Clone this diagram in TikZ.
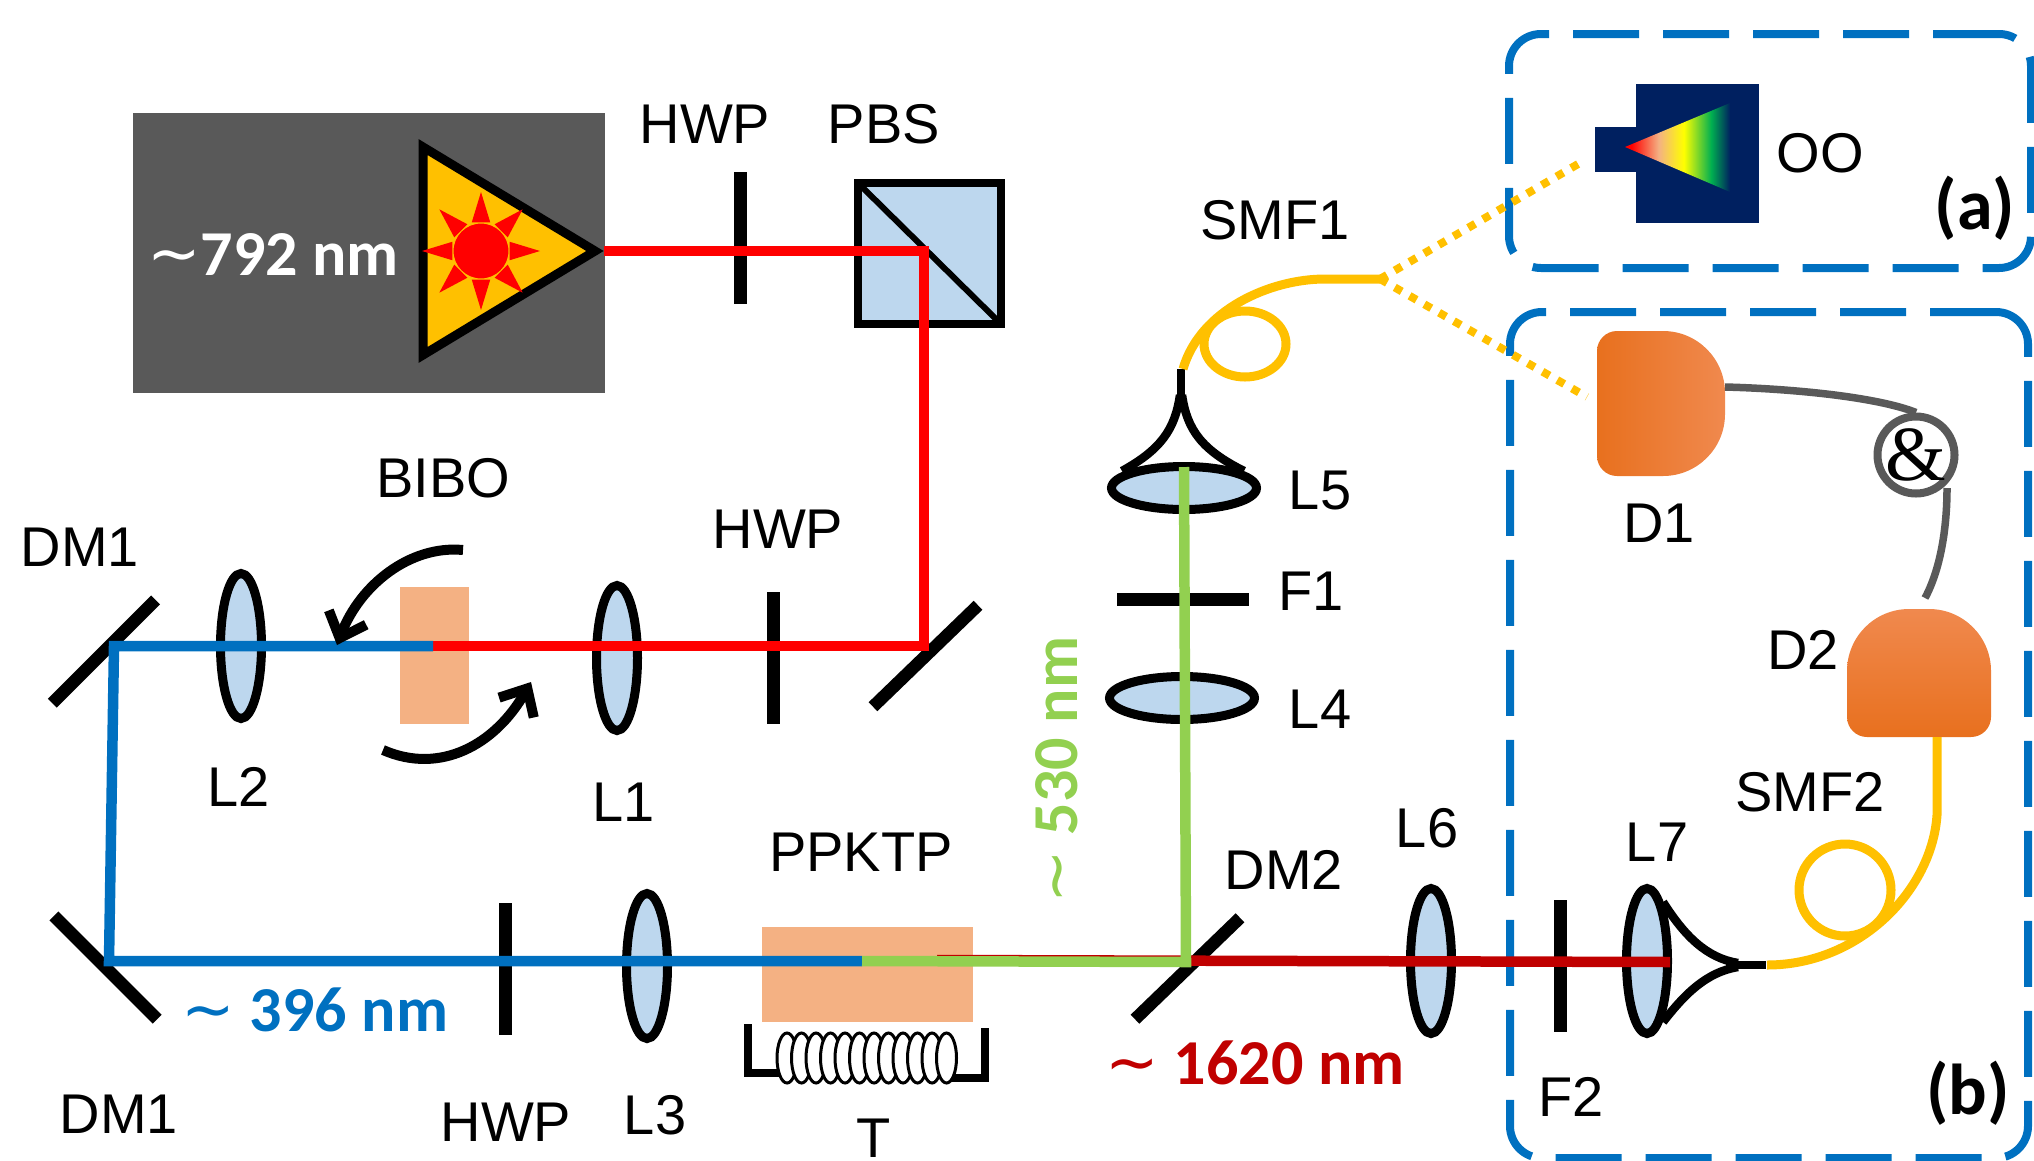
\documentclass[tikz,border=0pt]{standalone}
\usepackage{fontspec}
\setmainfont{Liberation Sans}
\newfontfamily\calfont{Carlito}
\newfontfamily\ampfont{Liberation Serif}
\newfontfamily\tildefont{DejaVu Sans}
\usetikzlibrary{arrows.meta,shapes.geometric}
\definecolor{pumpred}{HTML}{FF0000}
\definecolor{uvblue}{HTML}{0070C0}
\definecolor{signalgreen}{HTML}{92D050}
\definecolor{irred}{HTML}{C00000}
\definecolor{amber}{HTML}{FFC000}
\definecolor{graybox}{HTML}{595959}
\definecolor{lensblue}{HTML}{BDD7EE}
\definecolor{crystal}{HTML}{F4B183}
\definecolor{navy}{HTML}{002060}
\definecolor{peach}{HTML}{F4B183}
\definecolor{specgreen}{HTML}{00B050}
\definecolor{detdark}{HTML}{E8701E}
\definecolor{detmid}{HTML}{F47B2C}
\definecolor{detlight}{HTML}{F0894E}
\newcommand{\tld}{{\tildefont\mdseries ∼}}
\pgfdeclarehorizontalshading{specfan}{100bp}{color(0bp)=(pumpred); color(28bp)=(pumpred); color(41bp)=(peach); color(53bp)=(yellow); color(66bp)=(specgreen); color(75bp)=(navy); color(100bp)=(navy)}
\tikzset{
  lbl/.style={font=\fontsize{56}{60}\selectfont, inner sep=0pt},
  nmlbl/.style={font=\calfont\bfseries\fontsize{64}{70}\selectfont, inner sep=0pt},
  panellbl/.style={font=\calfont\bfseries\fontsize{72}{76}\selectfont, inner sep=0pt},
  lens/.style={draw=black, line width=9pt, fill=lensblue, ellipse, inner sep=0pt, outer sep=0pt, minimum width=41pt, minimum height=145pt},
  hlens/.style={lens, minimum width=145pt, minimum height=43pt},
  plate/.style={fill=black, inner sep=0pt, outer sep=0pt, minimum width=13pt, minimum height=132pt},
  mirror/.style={fill=black, inner sep=0pt, outer sep=0pt, minimum width=146pt, minimum height=12.5pt},
  block/.style={inner sep=0pt, outer sep=0pt},
  beam/.style={line width=10.5pt},
  fiber/.style={draw=amber, line width=9pt},
  dotfiber/.style={draw=amber, line width=8pt, dash pattern=on 8pt off 9pt},
  wire/.style={draw=graybox, line width=7.5pt},
  panel/.style={draw=uvblue, line width=8pt, rounded corners=32pt, dash pattern=on 66pt off 24pt, inner sep=0pt, outer sep=0pt},
  coupler/.style={draw=black, line width=8.5pt},
  turn/.style={draw=black, line width=10pt, -{Straight Barb[length=22pt,width=40pt,line width=10pt]}}
}
\begin{document}
\begin{tikzpicture}[x=1pt, y=-1pt]
  \useasboundingbox (0,0) rectangle (2034,1160);

  \node[panel, minimum width=522pt, minimum height=234pt] (panelA) at (1770,151) {};
  \node[panel, minimum width=518pt, minimum height=846pt] (panelB) at (1769,735) {};

  \node[block, fill=graybox, minimum width=472.5pt, minimum height=280pt] (laserbox) at (368.75,253) {};
  \draw[line width=9pt, fill=amber] (423,147) -- (595,251) -- (423,355) -- cycle;
  \node[circle, fill=pumpred, draw=amber, line width=1pt, inner sep=0pt, minimum size=56pt] (sun) at (481,251) {};
  \foreach \a in {0,45,...,315}
    \fill[pumpred, shift={(sun.center)}] (\a:59) -- (\a+18:30) -- (\a-18:30) -- cycle;
  \node[nmlbl, white] (pumplbl) at (273,255) {\tld 792 nm};
  \coordinate (pumpout) at (604,251);

  \node[plate] (hwpA) at (740,238) {};
  \node[lbl] (hwpAlbl) at (705,124) {HWP};
  \node[block, draw=black, line width=8pt, fill=lensblue, minimum width=143pt, minimum height=141pt] (pbs) at (929,253) {};
  \draw[line width=6pt] (pbs.north west) -- (pbs.south east);
  \node[lbl] (pbslbl) at (884,124) {PBS};

  \node[mirror, rotate=44] (mirrorR) at (925.5,656) {};
  \node[plate] (hwpB) at (773,658) {};
  \node[lbl] (hwpBlbl) at (778,529) {HWP};
  \node[lens] (lensA) at (617,658) {};
  \node[lbl] (lensAlbl) at (624,802) {L1};
  \node[block, fill=crystal, minimum width=69pt, minimum height=137pt] (bibo) at (434.5,655.5) {};
  \node[lbl] (bibolbl) at (443,478) {BIBO};
  \node[lens] (lensB) at (241,646) {};
  \node[lbl] (lensBlbl) at (239,787) {L2};
  \node[mirror, rotate=45] (dmTop) at (104,651.5) {};
  \node[lbl] (dmToplbl) at (80,547) {DM1};
  \node[mirror, rotate=-45] (dmBot) at (105.5,967.5) {};
  \node[lbl] (dmBotlbl) at (119,1114) {DM1};

  \node[plate] (hwpC) at (505,969) {};
  \node[lbl] (hwpClbl) at (506,1122) {HWP};
  \node[lens] (lensC) at (647,966) {};
  \node[lbl] (lensClbl) at (655,1115) {L3};
  \node[block, fill=crystal, minimum width=211pt, minimum height=95pt] (ppktp) at (867.5,974.5) {};
  \node[lbl] (ppktplbl) at (861,852) {PPKTP};
  \node[mirror, rotate=44] (dmTwo) at (1187.5,968.5) {};
  \node[lbl] (dmTwolbl) at (1284,870) {DM2};
  \node[hlens] (lensD) at (1182,698) {};
  \node[lbl] (lensDlbl) at (1320,709) {L4};
  \node[plate, rotate=90] (filterA) at (1183,599) {};
  \node[lbl] (filterAlbl) at (1311,591) {F1};
  \node[hlens] (lensE) at (1184,488) {};
  \node[lbl] (lensElbl) at (1320,490) {L5};
  \node[lens] (lensF) at (1431,961) {};
  \node[lbl] (lensFlbl) at (1427,828) {L6};
  \node[plate] (filterB) at (1560.5,965.5) {};
  \node[lbl] (filterBlbl) at (1571,1097) {F2};
  \node[lens] (lensG) at (1647,961) {};
  \node[lbl] (lensGlbl) at (1657,842) {L7};

  \coordinate (pbsturn) at (924,251);
  \coordinate (mirrorturn) at (924,646);
  \coordinate (bibomid) at (433,646);
  \coordinate (dmTopturn) at (114,646);
  \coordinate (dmBotturn) at (109,961);
  \coordinate (ppktpmid) at (862,961);
  \coordinate (dmTwoturn) at (1186,962);
  \coordinate (lensEtop) at (1184,467);
  \coordinate (lensGend) at (1670,962);

  \draw[beam, irred] (937,960) -- (lensGend);
  \draw[beam, pumpred] (pumpout) -- (pbsturn) -- (mirrorturn) -- (bibomid);
  \draw[beam, uvblue] (bibomid) -- (dmTopturn) -- (dmBotturn) -- (ppktpmid);
  \draw[beam, signalgreen] (ppktpmid) -- (dmTwoturn) -- (lensEtop);

  \node[nmlbl, uvblue] (uvlbl) at (315,1010) {\tld{} 396 nm};
  \node[nmlbl, irred] (irlbl) at (1255,1063) {\tld{} 1620 nm};
  \node[nmlbl, signalgreen, rotate=90] (greenlbl) at (1057,770) {\tld{} 530 nm};

  \draw[turn] (463,550) .. controls (410,545) and (360,585) .. (337,645);
  \draw[turn] (383,750) .. controls (440,775) and (495,745) .. (531,682);

  \draw[line width=8pt] (748,1024) |- (782,1073);
  \draw[line width=8pt] (985,1028) |- (950,1078);
  \foreach \i in {0,...,11}
    \draw[line width=3pt, fill=white] (787+\i*14.5,1058) ellipse [x radius=10, y radius=25];
  \node[lbl, anchor=base] (heaterlbl) at (874,1157) {T};

  \draw[coupler] (1181,369) -- (1181,405);
  \draw[coupler] (1180,395) .. controls (1175,430) and (1160,450) .. (1122,471);
  \draw[coupler] (1182,395) .. controls (1187,430) and (1202,450) .. (1244,471);
  \coordinate (smfAend) at (1380,279);
  \draw[fiber] (1183,369) .. controls (1200,310) and (1270,279) .. (1325,279) -- (smfAend);
  \draw[fiber] (1245,344) ellipse [x radius=41, y radius=33];
  \node[lbl] (smfAlbl) at (1275,220) {SMF1};

  \node[block, fill=navy, minimum width=123pt, minimum height=139pt] (specbody) at (1697.5,153.5) {};
  \node[block, fill=navy, minimum width=41pt, minimum height=45pt] (specport) at (1615.5,149.5) {};
  \shade[shading=specfan] (1625,147) -- (1730,103) -- (1730,192) -- cycle;
  \node[lbl] (speclbl) at (1820,153) {OO};
  \node[panellbl] (panelAlbl) at (1975,208) {(a)};
  \node[panellbl] (panelBlbl) at (1968,1093) {(b)};

  \node[block, minimum width=128pt, minimum height=145pt] (detA) at (1661,403.5) {};
  \shade[left color=detdark, middle color=detmid, right color=detlight]
    (detA.west) [rounded corners=20pt] -- (detA.north west) [rounded corners=62pt] -- (detA.north east) -- (detA.south east) [rounded corners=20pt] -- (detA.south west) -- cycle;
  \node[lbl] (detAlbl) at (1659,523) {D1};
  \node[block, minimum width=144pt, minimum height=128pt] (detB) at (1919,673) {};
  \shade[top color=detlight, middle color=detmid, bottom color=detdark]
    (detB.south) [rounded corners=20pt] -- (detB.south east) [rounded corners=62pt] -- (detB.north east) -- (detB.north west) [rounded corners=20pt] -- (detB.south west) -- cycle;
  \node[lbl] (detBlbl) at (1803,650) {D2};

  \node[circle, draw=graybox, line width=8pt, inner sep=0pt, minimum size=77pt] (gate) at (1916,455) {};
  \node[font=\ampfont\fontsize{78}{78}\selectfont, inner sep=0pt] (gatelbl) at (gate.center) {\&};
  \draw[wire] (1725,387) .. controls (1800,389) and (1880,398) .. (gate.north);
  \draw[wire] (1947,488) .. controls (1947,530) and (1940,570) .. (1925,598);

  \draw[coupler] (1766,965) -- (1726,965);
  \draw[coupler] (1738,963) .. controls (1706,958) and (1684,935) .. (1663,902);
  \draw[coupler] (1738,967) .. controls (1706,972) and (1684,995) .. (1663,1022);
  \coordinate (detBout) at (1937,737);
  \draw[fiber] (detBout) -- (1937,815) .. controls (1932,890) and (1860,965) .. (1767,965);
  \draw[fiber] (1845,890) circle [radius=46];
  \node[lbl] (smfBlbl) at (1810,792) {SMF2};

  \coordinate (specin) at (1585,160);
  \coordinate (detAin) at (1587,397);
  \draw[dotfiber] (smfAend) -- (specin);
  \draw[dotfiber] (smfAend) -- (detAin);
\end{tikzpicture}
\end{document}
